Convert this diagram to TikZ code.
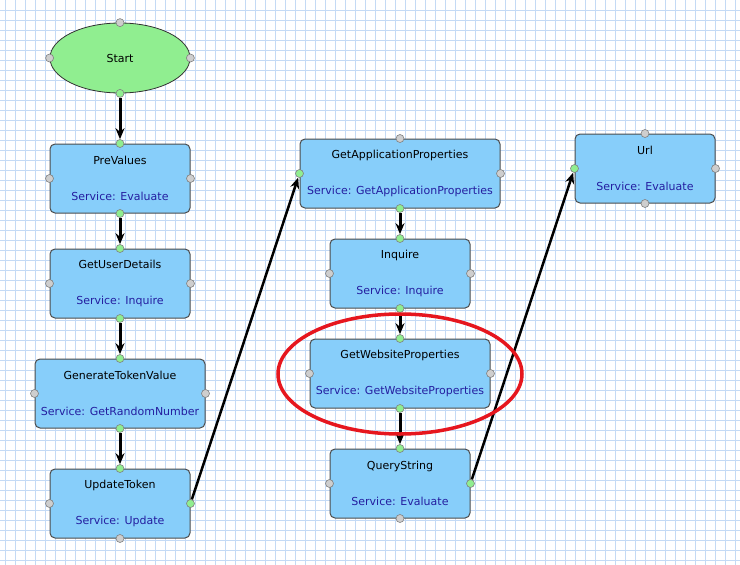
\documentclass[tikz,border=0pt]{standalone}
\usepackage{fontspec}
\setmainfont{DejaVu Sans}
\usetikzlibrary{arrows.meta,shapes.geometric}
\definecolor{gridblue}{RGB}{196,218,245}
\definecolor{boxblue}{RGB}{135,206,250}
\definecolor{startgreen}{RGB}{144,238,144}
\definecolor{portgray}{RGB}{206,206,206}
\definecolor{svcblue}{RGB}{36,30,160}
\definecolor{markred}{RGB}{230,22,30}
\tikzset{
  task/.style={draw=black!70, fill=boxblue, rounded corners=5pt, line width=1pt,
    minimum height=69pt, inner sep=0pt, align=center, font=\fontsize{11}{12}\selectfont},
  port/.style={circle, draw=black!50, fill=portgray, inner sep=0pt, minimum size=8pt, line width=0.6pt},
  live/.style={port, fill=startgreen},
  flow/.style={line width=3pt, -{Stealth[length=11pt,width=9pt]}}
}
\newcommand{\servicetext}[1]{\textcolor{svcblue}{Service: #1}}
\begin{document}
\begin{tikzpicture}[x=1pt,y=-1pt]
\useasboundingbox (0,0) rectangle (740,565);
\fill[white] (0,0) rectangle (740,565);
\foreach \x in {5,15,...,735} \draw[gridblue, line width=0.8pt] (\x,0) -- (\x,565);
\foreach \y in {10,20,...,560} \draw[gridblue, line width=0.8pt] (0,\y) -- (740,\y);

\node[ellipse, draw=black!80, fill=startgreen, line width=0.8pt, minimum width=140pt,
  minimum height=70pt, inner sep=0pt, font=\fontsize{11}{12}\selectfont] (start) at (120,58) {Start};

\node[task, minimum width=140pt] (pre) at (120,178.5) {PreValues\\[24pt]\servicetext{Evaluate}};
\node[task, minimum width=140pt] (gud) at (120,283.5) {GetUserDetails\\[24pt]\servicetext{Inquire}};
\node[task, minimum width=170pt] (gtv) at (120,393.5) {GenerateTokenValue\\[24pt]\servicetext{GetRandomNumber}};
\node[task, minimum width=140pt] (upd) at (120,503.5) {UpdateToken\\[24pt]\servicetext{Update}};
\node[task, minimum width=200pt] (gap) at (400,173.5) {GetApplicationProperties\\[24pt]\servicetext{GetApplicationProperties}};
\node[task, minimum width=140pt] (inq) at (400,273.5) {Inquire\\[24pt]\servicetext{Inquire}};
\node[task, minimum width=180pt] (gwp) at (400,373.5) {GetWebsiteProperties\\[24pt]\servicetext{GetWebsiteProperties}};
\node[task, minimum width=140pt] (qs) at (400,483.5) {QueryString\\[24pt]\servicetext{Evaluate}};
\node[task, minimum width=140pt] (url) at (645,168.5) {Url\\[24pt]\servicetext{Evaluate}};

% ports: top / bottom / left / right
\foreach \n/\t/\b/\l/\r in {start/port/live/port/port, pre/live/live/port/port,
    gud/live/live/port/port, gtv/live/live/port/port, upd/live/port/port/live,
    gap/port/live/live/port, inq/live/live/port/port, gwp/live/live/port/port,
    qs/live/port/port/live, url/port/port/live/port}{
  \node[\t] (\n-t) at (\n.north) {};
  \node[\b] (\n-b) at (\n.south) {};
  \node[\l] (\n-l) at (\n.west) {};
  \node[\r] (\n-r) at (\n.east) {};
}

\draw[flow] (start-b) -- (pre-t);
\draw[flow] (pre-b) -- (gud-t);
\draw[flow] (gud-b) -- (gtv-t);
\draw[flow] (gtv-b) -- (upd-t);
\draw[flow, line width=2.5pt] (upd-r) -- (gap-l);
\draw[flow] (gap-b) -- (inq-t);
\draw[flow] (inq-b) -- (gwp-t);
\draw[flow] (gwp-b) -- (qs-t);
\draw[flow, line width=2.5pt] (qs-r) -- (url-l);

\draw[markred, line width=3.5pt] (400,374) ellipse [x radius=122pt, y radius=60pt];
\end{tikzpicture}
\end{document}
